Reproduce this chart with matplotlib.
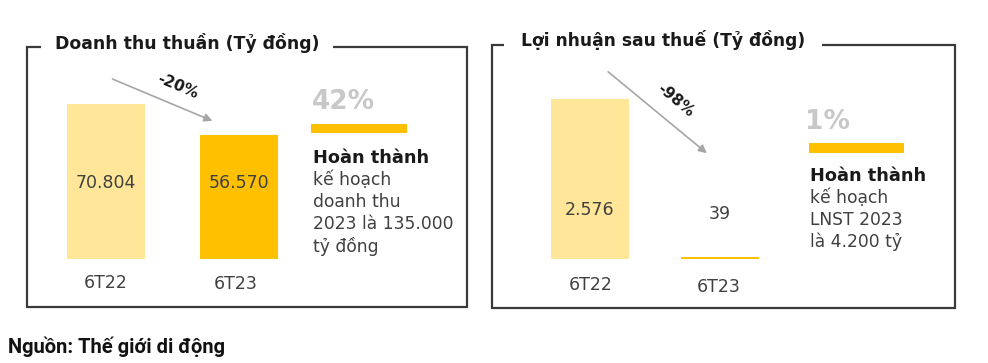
import matplotlib
matplotlib.use("Agg")
import matplotlib.pyplot as plt
from matplotlib.patches import Rectangle

W, H = 988, 363

# data
periods = ["6T22", "6T23"]
revenue = [70804, 56570]
revenue_labels = ["70.804", "56.570"]
profit = [2576, 39]
profit_labels = ["2.576", "39"]
rev_change = "-20%"
profit_change = "-98%"
rev_done = "42%"
profit_done = "1%"
rev_note = ["kế hoạch", "doanh thu", "2023 là 135.000", "tỷ đồng"]
profit_note = ["kế hoạch", "LNST 2023", "là 4.200 tỷ"]

light = "#FFE699"
dark = "#FFC000"
txt = "#404040"
grey = "#A6A6A6"

plt.rcParams['font.family'] = ['DejaVu Sans']

fig = plt.figure(figsize=(W / 100, H / 100), dpi=100)


def fx(x):
    return x / W


def fy(y):
    return 1 - y / H


def box(x0, y0, x1, y1):
    r = Rectangle((fx(x0), fy(y1)), fx(x1) - fx(x0), fy(y0) - fy(y1),
                  transform=fig.transFigure, fill=False, ec="#3a3a3a", lw=1.6)
    fig.add_artist(r)


def bars(cx0, cx1, base, h0, vals, colors):
    # axes placed so that bar centres sit at cx0 / cx1 px and baseline at base px
    unit = cx1 - cx0
    left = cx0 - unit / 2
    ax_h = 200
    ax = fig.add_axes([fx(left), fy(base), unit * 2 / W, ax_h / H])
    ax.set_xlim(-0.5, 1.5)
    ax.set_ylim(0, vals[0] * ax_h / h0)
    ax.bar([0, 1], vals, width=78 / unit, color=colors)
    ax.axis("off")
    return ax


def arrow(x0, y0, x1, y1):
    fig.add_artist(plt.Annotation("", xy=(fx(x1), fy(y1)), xytext=(fx(x0), fy(y0)),
                                  xycoords="figure fraction", textcoords="figure fraction",
                                  arrowprops=dict(arrowstyle="-|>", color=grey, lw=1.2,
                                                  mutation_scale=12)))


# left panel
box(27, 47, 467, 307)
fig.text(fx(55), fy(43), "Doanh thu thuần (Tỷ đồng)", fontsize=12.4, fontweight="bold",
         color="#1a1a1a", va="center", ha="left",
         bbox=dict(fc="white", ec="none", pad=10))
ax1 = bars(106, 238.5, 259, 155, revenue, [light, dark])
for i, lab in enumerate(revenue_labels):
    ax1.text(i, revenue[0] * 76 / 155, lab, ha="center", va="center",
             fontsize=12.5, color=txt)
fig.text(fx(106), fy(283), periods[0], ha="center", va="center", fontsize=12.5, color=txt)
fig.text(fx(236), fy(284), periods[1], ha="center", va="center", fontsize=12.5, color=txt)
arrow(110, 78, 215, 122)
fig.text(fx(178), fy(86), rev_change, ha="center", va="center", rotation=-23,
         fontsize=11, fontweight="bold", color="#1a1a1a")
fig.text(fx(343), fy(102), rev_done, ha="center", va="center", fontsize=19,
         fontweight="bold", color="#C8C8C8")
fig.add_artist(Rectangle((fx(311), fy(133)), fx(407) - fx(311), fy(124) - fy(133),
                         transform=fig.transFigure, color=dark, lw=0))
fig.text(fx(313), fy(158), "Hoàn thành", ha="left", va="center", fontsize=12.8,
         fontweight="bold", color="#1a1a1a")
for k, line in enumerate(rev_note):
    fig.text(fx(313), fy(180 + 22 * k), line, ha="left", va="center", fontsize=12.3,
             color=txt)

# right panel
box(492, 45, 955, 308)
fig.text(fx(521), fy(40), "Lợi nhuận sau thuế (Tỷ đồng)", fontsize=12.3, fontweight="bold",
         color="#1a1a1a", va="center", ha="left",
         bbox=dict(fc="white", ec="none", pad=12))
ax2 = bars(590, 720, 259, 160, profit, [light, dark])
ax2.text(0, profit[0] * 49 / 160, profit_labels[0], ha="center", va="center",
         fontsize=12.5, color=txt)
ax2.text(1, profit[0] * 45 / 160, profit_labels[1], ha="center", va="center",
         fontsize=12.5, color=txt)
fig.text(fx(591), fy(285), periods[0], ha="center", va="center", fontsize=12.5, color=txt)
fig.text(fx(719), fy(287), periods[1], ha="center", va="center", fontsize=12.5, color=txt)
arrow(606, 70, 709, 155)
fig.text(fx(675), fy(100), profit_change, ha="center", va="center", rotation=-40,
         fontsize=11, fontweight="bold", color="#1a1a1a")
fig.text(fx(827), fy(122), profit_done, ha="center", va="center", fontsize=19,
         fontweight="bold", color="#C8C8C8")
fig.add_artist(Rectangle((fx(809), fy(153)), fx(904) - fx(809), fy(143) - fy(153),
                         transform=fig.transFigure, color=dark, lw=0))
fig.text(fx(810), fy(176), "Hoàn thành", ha="left", va="center", fontsize=12.8,
         fontweight="bold", color="#1a1a1a")
for k, line in enumerate(profit_note):
    fig.text(fx(810), fy(198 + 22 * k), line, ha="left", va="center", fontsize=12.3,
             color=txt)

fig.text(fx(8), fy(347), "Nguồn: Thế giới di động", ha="left", va="center",
         fontsize=14.5, fontweight="bold", color="#111111", family=["Roboto", "DejaVu Sans"])

fig.savefig("out.png", dpi=100, facecolor="white")
